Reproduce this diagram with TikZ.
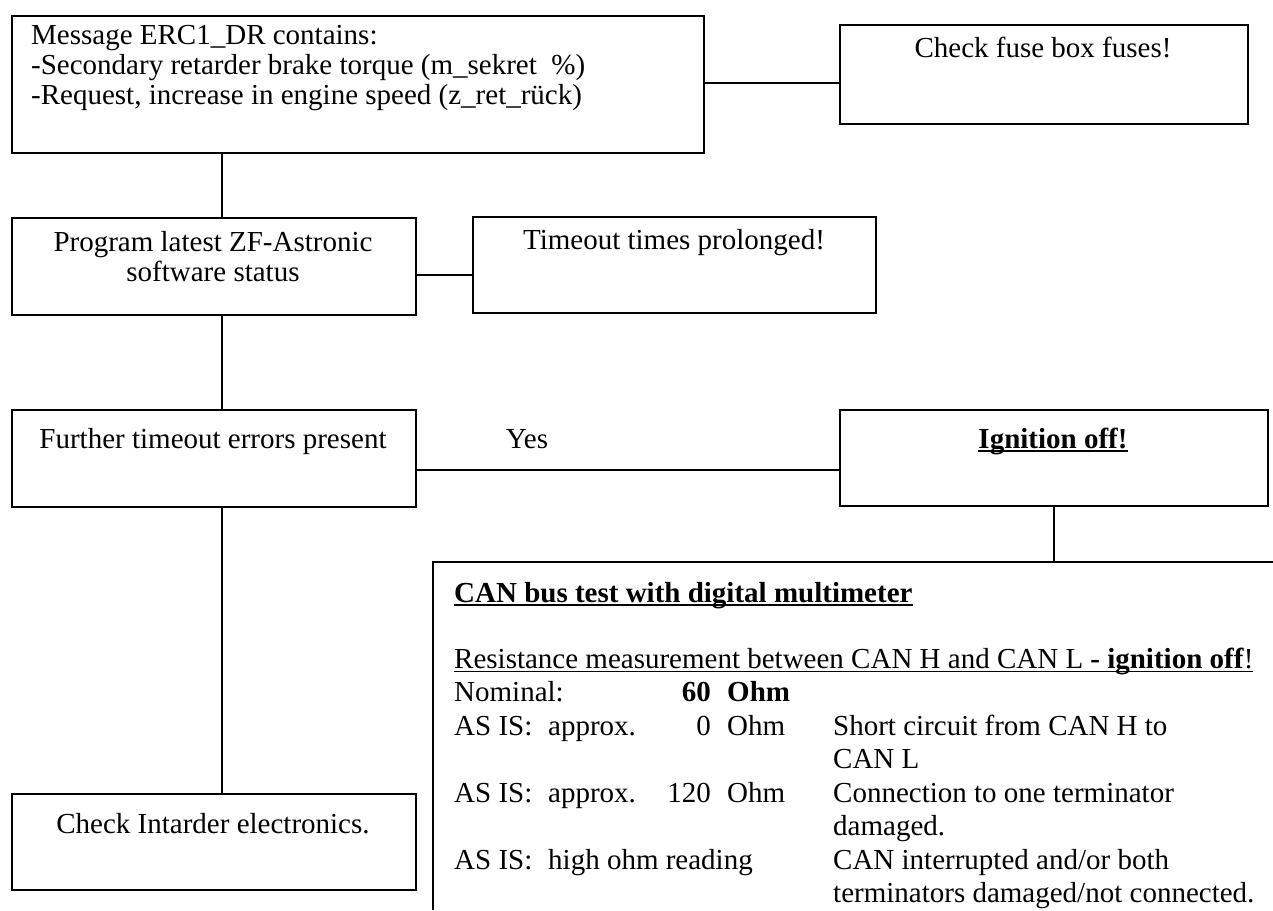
\documentclass[tikz,border=0pt]{standalone}
\usepackage{fontspec}
\setmainfont{Liberation Serif}
\newcommand\ulin[2][1.6pt]{\setbox0\hbox{#2}\rlap{\rule[-4.4pt]{\wd0}{#1}}\box0}
\begin{document}
\begin{tikzpicture}[x=1pt,y=-1pt,
  font=\fontsize{29pt}{33.5pt}\selectfont,
  box/.style={draw, line width=2pt, inner sep=0pt, anchor=north west},
  conn/.style={line width=1.5pt},
  txt/.style={inner sep=0pt, anchor=base},
  ltxt/.style={inner sep=0pt, anchor=base west},
  rtxt/.style={inner sep=0pt, anchor=base east}]
\useasboundingbox (0,0) rectangle (1273,910);

% boxes
\node[box, minimum width=692pt, minimum height=137pt] (msg) at (11,15) {};
\node[box, minimum width=408pt, minimum height=99pt] (fuse) at (839,24) {};
\node[box, minimum width=404pt, minimum height=97pt] (prog) at (11,217) {};
\node[box, minimum width=403pt, minimum height=96pt] (tout) at (472,216) {};
\node[box, minimum width=404pt, minimum height=97pt] (further) at (11,409) {};
\node[box, line width=2.4pt, minimum width=428pt, minimum height=96pt] (ign) at (839,409) {};
\node[box, minimum width=404pt, minimum height=96pt] (intard) at (11,793) {};

% helper coordinates
\coordinate (colx) at (222,0);
\coordinate (yfuse) at (0,83);
\coordinate (yprog) at (0,275);
\coordinate (yyes) at (0,470);
\coordinate (canTL) at (433,562);
\coordinate (canTR) at (1273,562);
\coordinate (canBL) at (433,910);

% connectors
\draw[conn] (colx |- msg.south) -- (colx |- prog.north);
\draw[conn] (yfuse -| msg.east) -- (yfuse -| fuse.west);
\draw[conn] (yprog -| prog.east) -- (yprog -| tout.west);
\draw[conn] (colx |- prog.south) -- (colx |- further.north);
\draw[conn] (yyes -| further.east) -- (yyes -| ign.west);
\draw[conn] (colx |- further.south) -- (colx |- intard.north);
\draw[conn] (ign.south) -- (ign.south |- canTL);
\draw[line width=2pt] (canTR) -- (canTL) -- (canBL);

% texts
\node[ltxt] (m1) at (31,44) {Message ERC1\_DR contains:};
\node[ltxt] (m2) at (31,74) {-Secondary retarder brake torque (m\_sekret\ \ \%)};
\node[ltxt] (m3) at (31,104) {-Request, increase in engine speed (z\_ret\_rück)};
\node[txt] (tfuse) at (1043,57) {Check fuse box fuses!};
\node[txt] (tprog1) at (213,251) {Program latest ZF-Astronic};
\node[txt] (tprog2) at (213,281) {software status};
\node[txt] (ttout) at (674,249) {Timeout times prolonged!};
\node[txt] (tfur) at (213,448) {Further timeout errors present};
\node[txt] (tyes) at (527,448) {Yes};
\node[txt] (tign) at (1053,448) {\ulin[2.4pt]{\textbf{Ignition off!}}};
\node[txt] (tint) at (213,833) {Check Intarder electronics.};

% CAN bus test block
\node[ltxt] (c0) at (454,602) {\ulin[2.2pt]{\textbf{CAN bus test with digital multimeter}}};
\node[ltxt] (c1) at (454,668) {\ulin{Resistance measurement between CAN H and CAN L \textbf{- ignition off}!}};
\node[ltxt] (c2a) at (454,701.5) {Nominal:};
\node[rtxt] (c2b) at (711,701.5) {\textbf{60}};
\node[ltxt] (c2c) at (727,701.5) {\textbf{Ohm}};
\node[ltxt] (c3a) at (454,735) {AS IS:};
\node[ltxt] (c3b) at (548,735) {approx.};
\node[rtxt] (c3c) at (711,735) {0};
\node[ltxt] (c3d) at (727,735) {Ohm};
\node[ltxt] (c3e) at (833,735) {Short circuit from CAN H to};
\node[ltxt] (c4e) at (833,768.5) {CAN L};
\node[ltxt] (c5a) at (454,802) {AS IS:};
\node[ltxt] (c5b) at (548,802) {approx.};
\node[rtxt] (c5c) at (711,802) {120};
\node[ltxt] (c5d) at (727,802) {Ohm};
\node[ltxt] (c5e) at (833,802) {Connection to one terminator};
\node[ltxt] (c6e) at (833,835.5) {damaged.};
\node[ltxt] (c7a) at (454,869) {AS IS:};
\node[ltxt] (c7b) at (548,869) {high ohm reading};
\node[ltxt] (c7e) at (833,869) {CAN interrupted and/or both};
\node[ltxt] (c8e) at (833,902.5) {terminators damaged/not connected.};
\end{tikzpicture}
\end{document}
